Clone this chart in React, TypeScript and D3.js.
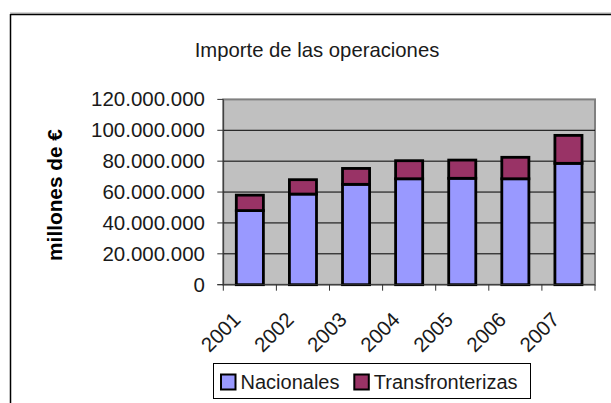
import React from "react";
import * as d3 from "d3";

const years = ["2001", "2002", "2003", "2004", "2005", "2006", "2007"];
const nacionales = [48000000, 58700000, 65000000, 68600000, 68900000, 68600000, 78600000];
const transfronterizas = [10000000, 9300000, 10300000, 11700000, 11800000, 13900000, 18100000];
const yTicks = [0, 20000000, 40000000, 60000000, 80000000, 100000000, 120000000];
const seriesNames = ["Nacionales", "Transfronterizas"];
const seriesColors = ["#9999FF", "#993366"];

const W = 611;
const H = 403;
const FONT = "'Liberation Sans', Arial, Helvetica, sans-serif";

const fmt = (v: number) => {
  const s = String(Math.round(v));
  return s.replace(/\B(?=(\d{3})+(?!\d))/g, ".");
};

export default function App() {
  const plotL = 223.3, plotR = 595, plotT = 99.4, plotB = 284.7;
  const x = d3.scaleBand<string>().domain(years).range([plotL, plotR]).paddingInner(0.49).paddingOuter(0.245);
  const y = d3.scaleLinear().domain([0, 120000000]).range([plotB, plotT]);
  const catEdges = d3.range(years.length + 1).map((i) => plotL + i * ((plotR - plotL) / years.length));

  return (
    <svg width={W} height={H} style={{ position: "absolute", left: 0, top: 0, background: "#fff" }} fontFamily={FONT}>
      {/* outer chart frame */}
      <line x1={10} y1={13} x2={W} y2={13} stroke="#aaa" strokeWidth={1} />
      <line x1={10.5} y1={14.5} x2={W} y2={14.5} stroke="#000" strokeWidth={1.5} />
      <line x1={10.5} y1={14} x2={10.5} y2={H} stroke="#000" strokeWidth={1.5} />

      {/* title */}
      <text x={317} y={57} textAnchor="middle" fontSize={20.3} fill="#1a1a1a">
        Importe de las operaciones
      </text>

      {/* plot area */}
      <rect x={plotL} y={plotT} width={plotR - plotL} height={plotB - plotT} fill="#C0C0C0" stroke="#808080" strokeWidth={2} />
      {yTicks.filter((t) => t > 0 && t < 120000000).map((t) => (
        <line key={t} x1={plotL} x2={plotR} y1={y(t)} y2={y(t)} stroke="#000" strokeWidth={1} />
      ))}

      {/* bars */}
      {years.map((yr, i) => {
        const bx = x(yr)!;
        const bw = x.bandwidth();
        const n = nacionales[i];
        const t = transfronterizas[i];
        return (
          <g key={yr}>
            <rect x={bx} y={y(n)} width={bw} height={y(0) - y(n)} fill={seriesColors[0]} stroke="#000" strokeWidth={2.8} />
            <rect x={bx} y={y(n + t)} width={bw} height={y(n) - y(n + t)} fill={seriesColors[1]} stroke="#000" strokeWidth={2.8} />
          </g>
        );
      })}

      {/* axes */}
      <line x1={plotL} x2={plotL} y1={plotT} y2={plotB} stroke="#333" strokeWidth={1} />
      <line x1={plotL - 6} x2={plotR} y1={plotB} y2={plotB} stroke="#333" strokeWidth={1} />
      {yTicks.map((t) => (
        <g key={t}>
          <line x1={plotL - 6} x2={plotL} y1={y(t)} y2={y(t)} stroke="#333" strokeWidth={1} />
          <text x={205} y={y(t) + 7} textAnchor="end" fontSize={20.5} fill="#1a1a1a">
            {fmt(t)}
          </text>
        </g>
      ))}
      {catEdges.map((cx, i) => (
        <line key={i} x1={cx} x2={cx} y1={plotB} y2={plotB + 6} stroke="#333" strokeWidth={1} />
      ))}
      {years.map((yr) => {
        const cx = x(yr)! + x.bandwidth() / 2;
        return (
          <text key={yr} transform={`translate(${cx - 8},321) rotate(-45)`} textAnchor="end" fontSize={20.5} fill="#1a1a1a">
            {yr}
          </text>
        );
      })}

      {/* y axis title */}
      <text transform={`translate(62,195) rotate(-90)`} textAnchor="middle" fontSize={20.8} fontWeight="bold" fill="#000">
        millones de €
      </text>

      {/* legend */}
      <rect x={213.5} y={363.5} width={317} height={35} fill="#fff" stroke="#000" strokeWidth={1} />
      {seriesNames.map((s, i) => {
        const sx = i === 0 ? 220 : 353.3;
        return (
          <g key={s}>
            <rect x={sx + 1} y={374.5} width={14.5} height={15} fill={seriesColors[i]} stroke="#000" strokeWidth={2} />
            <text x={sx + 20.5} y={389} fontSize={20} fill="#1a1a1a">
              {s}
            </text>
          </g>
        );
      })}
    </svg>
  );
}
